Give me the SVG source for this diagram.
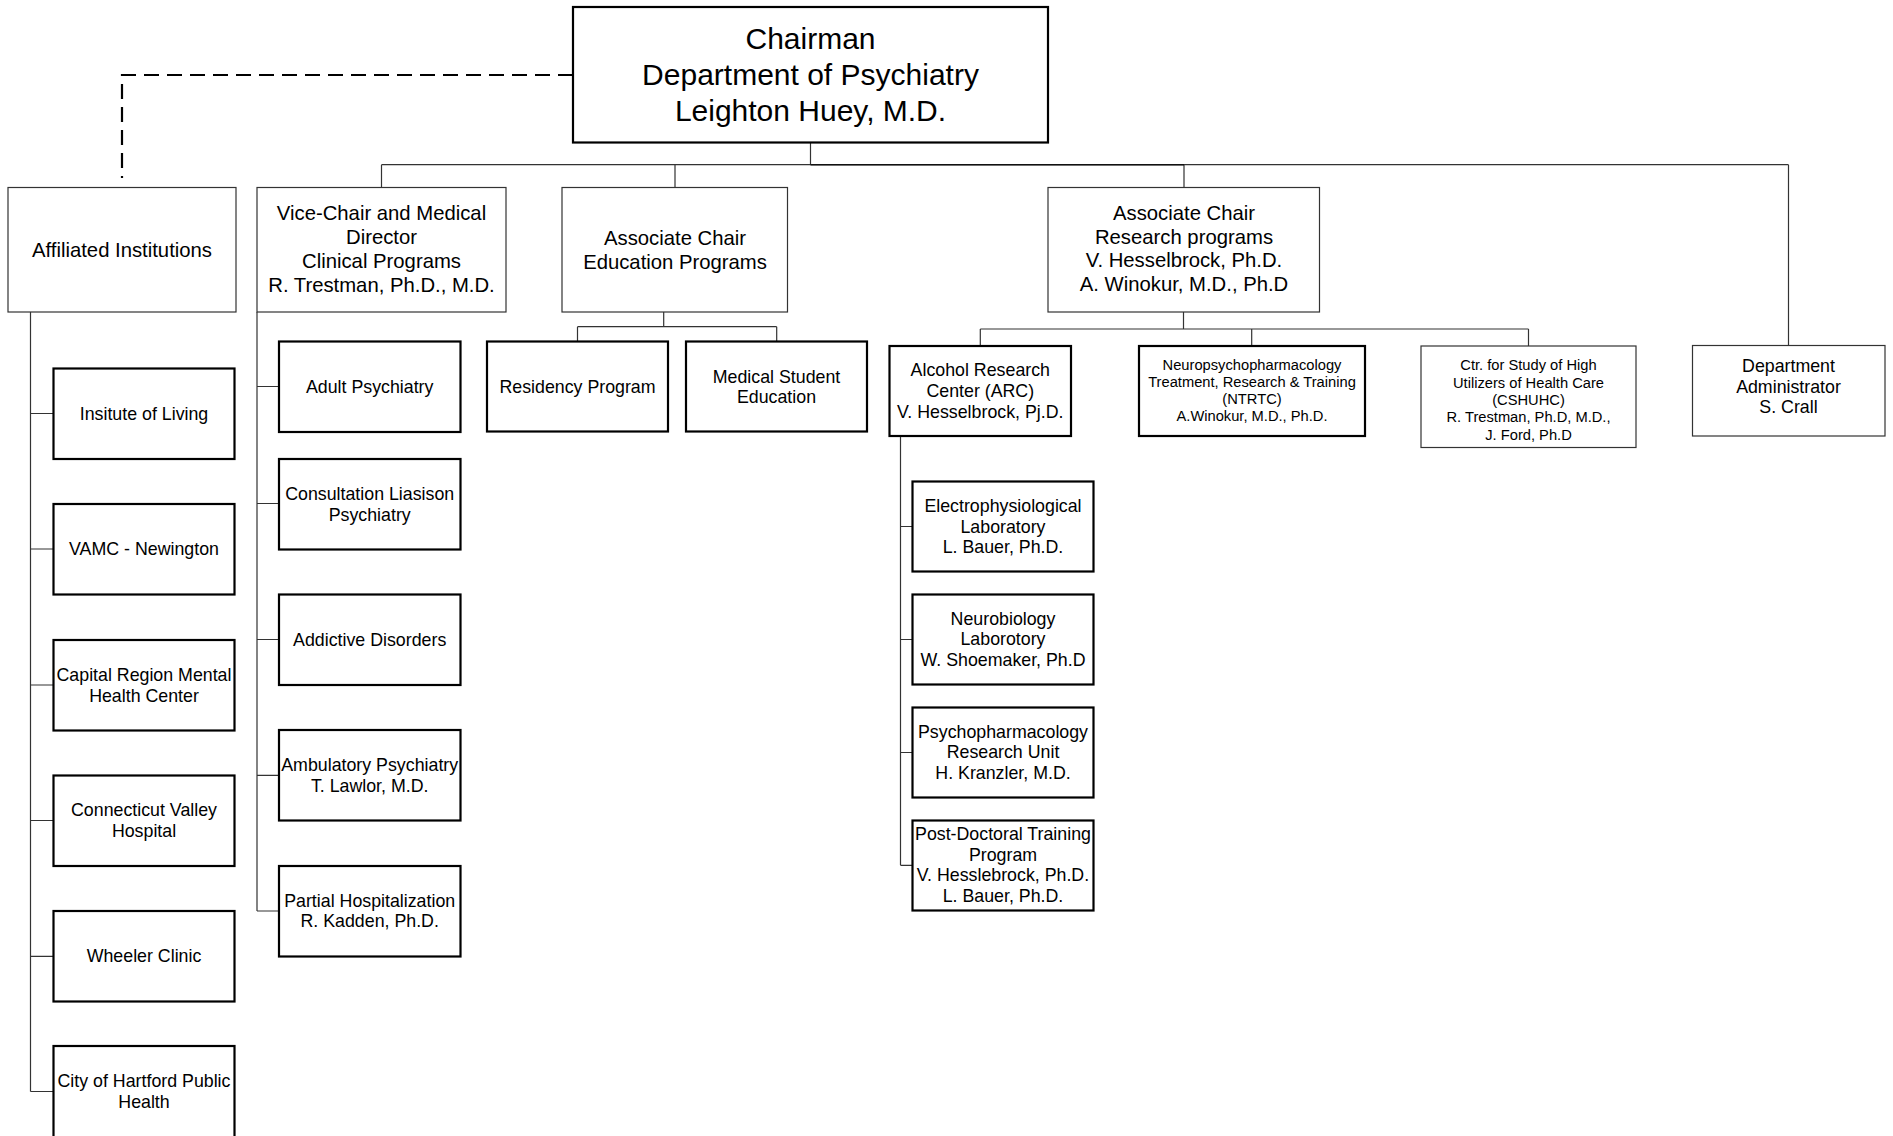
<svg xmlns="http://www.w3.org/2000/svg" width="1893" height="1136" viewBox="0 0 1893 1136">
<style>
text{font-family:"Liberation Sans",Arial,sans-serif;fill:#000;text-anchor:middle}
.t30{font-size:30px}
.t20{font-size:20.3px}
.t17{font-size:17.8px}
.t14{font-size:14.7px}
.thin{fill:#fff;stroke:#333;stroke-width:1.2}
.thick{fill:#fff;stroke:#000;stroke-width:2.2}
.conn{fill:none;stroke:#333;stroke-width:1.2}
.dash{fill:none;stroke:#000;stroke-width:2.2;stroke-dasharray:15 8}
</style>
<rect width="1893" height="1136" fill="#fff"/>
<g id="connectors">
<path class="dash" d="M573,75 H122 V178"/>
<path class="conn" d="M810.5,142.5 V164.7 M381.5,164.7 H1788.5 M381.5,164.7 V187.5 M675,164.7 V187.5 M1184,164.7 V187.5 M1788.5,164.7 V345.5"/>
<path class="conn" style="stroke:#111;stroke-width:1.6" d="M810.5,164.7 H1184"/>
<path class="conn" d="M30.5,312 V1091.5 M30.5,413.5 H53.5 M30.5,549 H53.5 M30.5,685 H53.5 M30.5,820.5 H53.5 M30.5,956.3 H53.5 M30.5,1091.5 H53.5"/>
<path class="conn" d="M257,312 V911 M257,386.5 H279 M257,503.5 H279 M257,639.5 H279 M257,775.3 H279 M257,911 H279"/>
<path class="conn" d="M663.7,312 V326.7 M577.5,326.7 H776.7 M577.5,326.7 V341.5 M776.7,326.7 V341.5"/>
<path class="conn" d="M1183.5,312 V329 M980.3,329 H1528.5 M980.3,329 V346 M1251.7,329 V346 M1528.5,329 V346"/>
<path class="conn" d="M900.5,436 V865.3 M900.5,526.5 H912.5 M900.5,639.5 H912.5 M900.5,752.5 H912.5 M900.5,865.3 H912.5"/>
</g>
<g id="chairman">
<rect class="thick" x="573" y="7" width="475" height="135.5"/>
<text class="t30" x="810.5" y="48.5">Chairman</text>
<text class="t30" x="810.5" y="85">Department of Psychiatry</text>
<text class="t30" x="810.5" y="121">Leighton Huey, M.D.</text>
</g>
<g id="affiliated">
<rect class="thin" x="8" y="187.5" width="228" height="124.5"/>
<text class="t20" x="122" y="256.5">Affiliated Institutions</text>
</g>
<g id="vicechair">
<rect class="thin" x="257" y="187.5" width="249" height="124.5"/>
<text class="t20" x="381.5" y="220">Vice-Chair and Medical</text>
<text class="t20" x="381.5" y="244">Director</text>
<text class="t20" x="381.5" y="268">Clinical Programs</text>
<text class="t20" x="381.5" y="292">R. Trestman, Ph.D., M.D.</text>
</g>
<g id="education">
<rect class="thin" x="562" y="187.5" width="225.5" height="124.5"/>
<text class="t20" x="675" y="245">Associate Chair</text>
<text class="t20" x="675" y="269">Education Programs</text>
</g>
<g id="research">
<rect class="thin" x="1048" y="187.5" width="271.5" height="124.5"/>
<text class="t20" x="1184" y="220">Associate Chair</text>
<text class="t20" x="1184" y="243.7">Research programs</text>
<text class="t20" x="1184" y="267.3">V. Hesselbrock, Ph.D.</text>
<text class="t20" x="1184" y="291">A. Winokur, M.D., Ph.D</text>
</g>
<g id="deptadmin">
<rect class="thin" x="1692.5" y="345.5" width="192.5" height="90.5"/>
<text class="t17" x="1788.5" y="372">Department</text>
<text class="t17" x="1788.5" y="392.5">Administrator</text>
<text class="t17" x="1788.5" y="413">S. Crall</text>
</g>
<g id="institute-of-living">
<rect class="thick" x="53.5" y="368.5" width="181" height="90.5"/>
<text class="t17" x="144" y="420">Insitute of Living</text>
</g>
<g id="vamc">
<rect class="thick" x="53.5" y="504" width="181" height="90.5"/>
<text class="t17" x="144" y="555.3">VAMC - Newington</text>
</g>
<g id="capital-region">
<rect class="thick" x="53.5" y="640" width="181" height="90.5"/>
<text class="t17" x="144" y="680.7">Capital Region Mental</text>
<text class="t17" x="144" y="701.5">Health Center</text>
</g>
<g id="connecticut-valley">
<rect class="thick" x="53.5" y="775.5" width="181" height="90.5"/>
<text class="t17" x="144" y="816">Connecticut Valley</text>
<text class="t17" x="144" y="837">Hospital</text>
</g>
<g id="wheeler">
<rect class="thick" x="53.5" y="911" width="181" height="90.5"/>
<text class="t17" x="144" y="962.3">Wheeler Clinic</text>
</g>
<g id="hartford">
<rect class="thick" x="53.5" y="1046" width="181" height="95"/>
<text class="t17" x="144" y="1087.2">City of Hartford Public</text>
<text class="t17" x="144" y="1108">Health</text>
</g>
<g id="adult-psychiatry">
<rect class="thick" x="279" y="341.5" width="181.5" height="90.5"/>
<text class="t17" x="369.7" y="392.7">Adult Psychiatry</text>
</g>
<g id="consultation">
<rect class="thick" x="279" y="459" width="181.5" height="90.5"/>
<text class="t17" x="369.7" y="499.8">Consultation Liasison</text>
<text class="t17" x="369.7" y="520.6">Psychiatry</text>
</g>
<g id="addictive">
<rect class="thick" x="279" y="594.5" width="181.5" height="90.5"/>
<text class="t17" x="369.7" y="646">Addictive Disorders</text>
</g>
<g id="ambulatory">
<rect class="thick" x="279" y="730" width="181.5" height="90.5"/>
<text class="t17" x="369.7" y="771">Ambulatory Psychiatry</text>
<text class="t17" x="369.7" y="791.8">T. Lawlor, M.D.</text>
</g>
<g id="partial">
<rect class="thick" x="279" y="866" width="181.5" height="90.5"/>
<text class="t17" x="369.7" y="906.5">Partial Hospitalization</text>
<text class="t17" x="369.7" y="927.3">R. Kadden, Ph.D.</text>
</g>
<g id="residency">
<rect class="thick" x="487" y="341.5" width="181" height="90"/>
<text class="t17" x="577.5" y="392.8">Residency Program</text>
</g>
<g id="medstudent">
<rect class="thick" x="686" y="341.5" width="181" height="90"/>
<text class="t17" x="776.5" y="382.5">Medical Student</text>
<text class="t17" x="776.5" y="403.3">Education</text>
</g>
<g id="arc">
<rect class="thick" x="889.5" y="346" width="181.5" height="90"/>
<text class="t17" x="980.3" y="376">Alcohol Research</text>
<text class="t17" x="980.3" y="397">Center (ARC)</text>
<text class="t17" x="980.3" y="418">V. Hesselbrock, Pj.D.</text>
</g>
<g id="ntrtc">
<rect class="thick" x="1139" y="346" width="226" height="90"/>
<text class="t14" x="1252" y="370">Neuropsychopharmacology</text>
<text class="t14" x="1252" y="387">Treatment, Research &amp; Training</text>
<text class="t14" x="1252" y="404">(NTRTC)</text>
<text class="t14" x="1252" y="421">A.Winokur, M.D., Ph.D.</text>
</g>
<g id="cshuhc">
<rect class="thin" x="1421" y="346" width="215" height="101.5"/>
<text class="t14" x="1528.5" y="370">Ctr. for Study of High</text>
<text class="t14" x="1528.5" y="387.5">Utilizers of Health Care</text>
<text class="t14" x="1528.5" y="405">(CSHUHC)</text>
<text class="t14" x="1528.5" y="422">R. Trestman, Ph.D, M.D.,</text>
<text class="t14" x="1528.5" y="439.5">J. Ford, Ph.D</text>
</g>
<g id="electrophysiological">
<rect class="thick" x="912.5" y="481.5" width="181" height="90"/>
<text class="t17" x="1003" y="512">Electrophysiological</text>
<text class="t17" x="1003" y="532.5">Laboratory</text>
<text class="t17" x="1003" y="553">L. Bauer, Ph.D.</text>
</g>
<g id="neurobiology">
<rect class="thick" x="912.5" y="594.5" width="181" height="90"/>
<text class="t17" x="1003" y="624.5">Neurobiology</text>
<text class="t17" x="1003" y="645">Laborotory</text>
<text class="t17" x="1003" y="665.8">W. Shoemaker, Ph.D</text>
</g>
<g id="psychopharmacology">
<rect class="thick" x="912.5" y="707.5" width="181" height="90"/>
<text class="t17" x="1003" y="737.5">Psychopharmacology</text>
<text class="t17" x="1003" y="758">Research Unit</text>
<text class="t17" x="1003" y="778.8">H. Kranzler, M.D.</text>
</g>
<g id="postdoc">
<rect class="thick" x="912.5" y="820.5" width="181" height="90"/>
<text class="t17" x="1003" y="840">Post-Doctoral Training</text>
<text class="t17" x="1003" y="860.7">Program</text>
<text class="t17" x="1003" y="881.4">V. Hesslebrock, Ph.D.</text>
<text class="t17" x="1003" y="902.1">L. Bauer, Ph.D.</text>
</g>
</svg>
